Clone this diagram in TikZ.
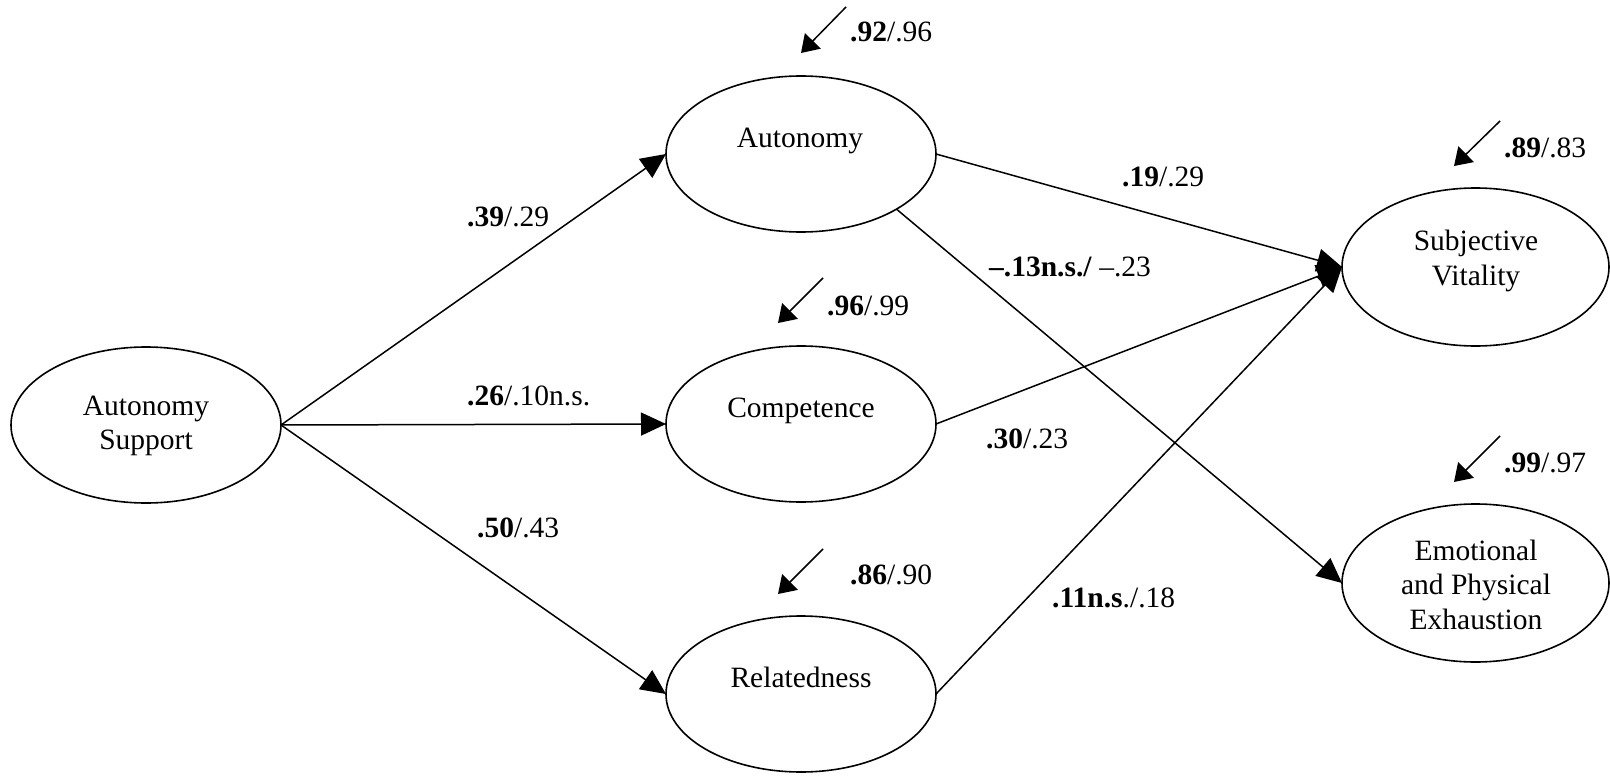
\documentclass[tikz,border=0pt]{standalone}
\usepackage{fontspec}
\setmainfont{Liberation Serif}
\usetikzlibrary{shapes.geometric,arrows.meta}
\begin{document}
\begin{tikzpicture}[x=1pt,y=-1pt,
  every node/.style={font=\fontsize{29.5}{34.5}\selectfont},
  latent/.style={draw,ellipse,line width=1.6pt,inner sep=0pt,outer sep=0pt,minimum width=270pt,minimum height=156pt},
  nm/.style={inner sep=0pt,anchor=base},
  ml/.style={inner sep=0pt,align=center,anchor=center},
  coef/.style={inner sep=0pt,anchor=base west},
  patharrow/.style={line width=1.5pt,-{Triangle[length=25pt,width=23pt]}},
  distarrow/.style={line width=1.5pt,-{Triangle[length=17pt,width=22pt]}}
]
\fill[white] (0,0) rectangle (1610,776);
\useasboundingbox (0,0) rectangle (1610,776);

% latent variables
\node[latent] (as) at (146,425) {};
\node[latent] (aut) at (801,154) {};
\node[latent] (comp) at (801,424) {};
\node[latent] (rel) at (801,694) {};
\node[latent,minimum width=267pt,minimum height=158pt] (sv) at (1475.5,267) {};
\node[latent,minimum width=267pt,minimum height=158pt] (ex) at (1475.5,583) {};

% texts in ellipses
\node[ml] (asT) at (146,426) {Autonomy\\Support};
\node[nm] (autT) at (800,147) {Autonomy};
\node[nm] (compT) at (801,417) {Competence};
\node[nm] (relT) at (801,687) {Relatedness};
\node[ml] (svT) at (1476,261) {Subjective\\Vitality};
\node[ml] (exT) at (1476,584.5) {Emotional\\and Physical\\Exhaustion};

% structural paths
\draw[patharrow] (as.east) -- (aut.west);
\draw[patharrow] (as.east) -- (comp.west);
\draw[patharrow] (as.east) -- (rel.west);
\draw[patharrow] (aut.east) -- (sv.west);
\draw[patharrow] (comp.east) -- (sv.west);
\draw[patharrow] (rel.east) -- (sv.west);
\draw[patharrow] (aut.-30.5) -- (ex.west);

% disturbance arrows
\coordinate (autD1) at (846,7);    \coordinate (autD2) at (801,53);
\coordinate (compD1) at (823,278); \coordinate (compD2) at (778,323);
\coordinate (relD1) at (823,549);  \coordinate (relD2) at (778,594);
\coordinate (svD1) at (1500,121);  \coordinate (svD2) at (1454,166);
\coordinate (exD1) at (1500,436);  \coordinate (exD2) at (1454,482);
\draw[distarrow] (autD1) -- (autD2);
\draw[distarrow] (compD1) -- (compD2);
\draw[distarrow] (relD1) -- (relD2);
\draw[distarrow] (svD1) -- (svD2);
\draw[distarrow] (exD1) -- (exD2);

% coefficients
\node[coef] (c1) at (467,226) {\textbf{.39}/.29};
\node[coef] (c2) at (467,405) {\textbf{.26}/.10n.s.};
\node[coef] (c3) at (477,537) {\textbf{.50}/.43};
\node[coef] (c4) at (1122,186) {\textbf{.19}/.29};
\node[coef] (c5) at (989,276) {\textbf{–.13n.s./} –.23};
\node[coef] (c6) at (986,448) {\textbf{.30}/.23};
\node[coef] (c7) at (1052,607) {\textbf{.11n.s}./.18};

% residual coefficients
\node[coef] (r1) at (850,42) {\textbf{.92}/.96};
\node[coef] (r2) at (827,315) {\textbf{.96}/.99};
\node[coef] (r3) at (850,584) {\textbf{.86}/.90};
\node[coef] (r4) at (1504,157) {\textbf{.89}/.83};
\node[coef] (r5) at (1504,472) {\textbf{.99}/.97};
\end{tikzpicture}
\end{document}
